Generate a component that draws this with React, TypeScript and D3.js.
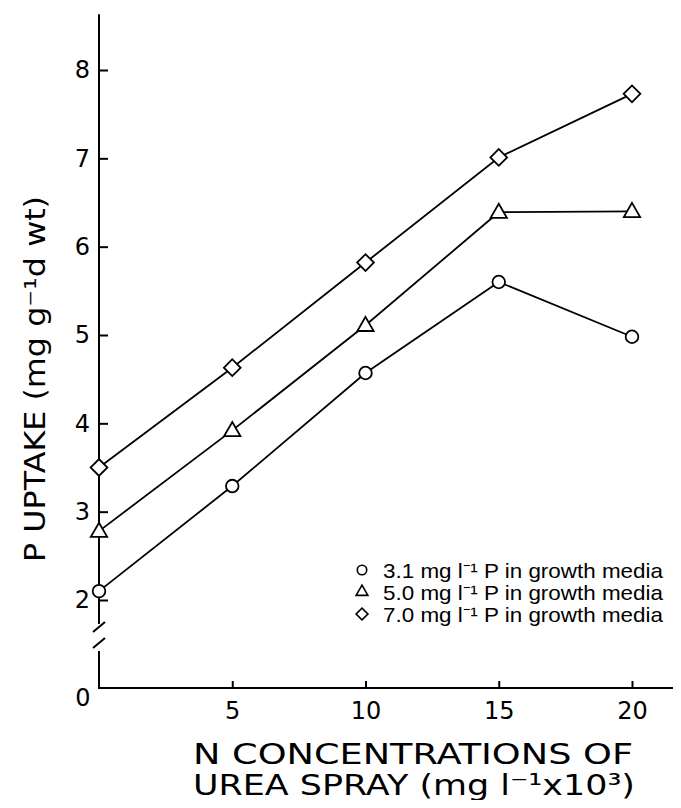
import { useEffect, useRef } from "react";
import * as d3 from "d3";

// urea spray N concentration (mg l-1 x 10^3)
const nConc = [0, 5, 10, 15, 20];
// P uptake (mg g-1 d wt) per P level in growth media
const p31 = [2.1, 3.29, 4.57, 5.6, 4.98];
const p50 = [2.78, 3.92, 5.11, 6.39, 6.4];
const p70 = [3.5, 4.63, 5.82, 7.01, 7.73];
const yTicks = [2, 3, 4, 5, 6, 7, 8];
const xTicks = [5, 10, 15, 20];
const legendLabels = ["3.1", "5.0", "7.0"];

const W = 681;
const H = 808;
const FONT = "'DejaVu Sans', 'Liberation Sans', sans-serif";
const LEGEND_FONT = "'Liberation Sans', Arial, sans-serif";

const App = () => {
  const svgRef = useRef<SVGSVGElement>(null);

  useEffect(() => {
    const svg = d3.select(svgRef.current);
    svg.selectAll("*").remove();

    const x = d3.scaleLinear().domain([0, 20]).range([99, 632]);
    const y = d3.scaleLinear().domain([2, 8]).range([600, 70]);
    const xAxisY = 688;
    const axisX = x(0);

    // y axis (upper part, with break)
    svg.append("line")
      .attr("x1", axisX).attr("x2", axisX)
      .attr("y1", y(8.63)).attr("y2", 624)
      .attr("stroke", "#000").attr("stroke-width", 2);
    svg.append("line")
      .attr("x1", axisX).attr("x2", axisX)
      .attr("y1", 651).attr("y2", xAxisY)
      .attr("stroke", "#000").attr("stroke-width", 2);
    // break marks
    [[632, 622], [648, 638]].forEach(([a, b]) => {
      svg.append("line")
        .attr("x1", axisX - 6).attr("y1", a)
        .attr("x2", axisX + 6).attr("y2", b)
        .attr("stroke", "#000").attr("stroke-width", 2);
    });
    // x axis line
    svg.append("line")
      .attr("x1", axisX - 1).attr("x2", 678)
      .attr("y1", xAxisY).attr("y2", xAxisY)
      .attr("stroke", "#000").attr("stroke-width", 2);

    const yAxis = d3.axisLeft(y)
      .tickValues(yTicks)
      .tickSize(-9)
      .tickPadding(9)
      .tickFormat(d3.format("d"));
    const gy = svg.append("g").attr("transform", `translate(${axisX},0)`).call(yAxis);
    gy.select(".domain").remove();
    gy.selectAll("line").attr("stroke-width", 2);
    gy.selectAll("text").attr("font-family", FONT).attr("font-size", 24).attr("fill", "#000");

    const xAxis = d3.axisBottom(x)
      .tickValues(xTicks)
      .tickSize(-7)
      .tickPadding(14)
      .tickFormat(d3.format("d"));
    const gx = svg.append("g").attr("transform", `translate(0,${xAxisY})`).call(xAxis);
    gx.select(".domain").remove();
    gx.selectAll("line").attr("stroke-width", 2);
    gx.selectAll("text").attr("font-family", FONT).attr("font-size", 24).attr("fill", "#000");

    // origin label
    svg.append("text")
      .attr("x", 83).attr("y", 706)
      .attr("text-anchor", "middle")
      .attr("font-family", FONT).attr("font-size", 24)
      .text("0");

    // axis titles
    svg.append("text")
      .attr("transform", "translate(45,379) rotate(-90)")
      .attr("text-anchor", "middle")
      .attr("font-family", FONT).attr("font-size", 28)
      .attr("textLength", 366)
      .attr("lengthAdjust", "spacingAndGlyphs")
      .text("P UPTAKE (mg g⁻¹d wt)");

    svg.append("text")
      .attr("x", 413).attr("y", 764)
      .attr("text-anchor", "middle")
      .attr("font-family", FONT).attr("font-size", 29)
      .attr("textLength", 440)
      .attr("lengthAdjust", "spacingAndGlyphs")
      .text("N CONCENTRATIONS OF");
    svg.append("text")
      .attr("x", 414).attr("y", 795)
      .attr("text-anchor", "middle")
      .attr("font-family", FONT).attr("font-size", 29)
      .attr("textLength", 442)
      .attr("lengthAdjust", "spacingAndGlyphs")
      .text("UREA SPRAY (mg l⁻¹x10³)");

    // series lines
    const line = d3.line<number>()
      .x((d, i) => x(nConc[i]))
      .y((d) => y(d));
    const series = [p31, p50, p70];
    series.forEach((s) => {
      svg.append("path")
        .attr("d", line(s))
        .attr("fill", "none")
        .attr("stroke", "#000")
        .attr("stroke-width", 1.8);
    });

    const symbols = [
      d3.symbol(d3.symbolCircle, 125),
      d3.symbol(d3.symbolTriangle, 115),
      d3.symbol(d3.symbolSquare, 140),
    ];
    const rot = ["", "", " rotate(45)"];
    const yOff = [0, 1, 0];

    series.forEach((s, k) => {
      svg.append("g")
        .selectAll("path")
        .data(s)
        .join("path")
        .attr("d", symbols[k]())
        .attr("transform", (d, i) => `translate(${x(nConc[i])},${y(d) + yOff[k]})${rot[k]}`)
        .attr("fill", "#fff")
        .attr("stroke", "#000")
        .attr("stroke-width", 1.8);
    });

    // legend
    const legendSymbols = [
      d3.symbol(d3.symbolCircle, 70),
      d3.symbol(d3.symbolTriangle, 60),
      d3.symbol(d3.symbolSquare, 70),
    ];
    legendLabels.forEach((lab, k) => {
      const ly = 570 + k * 22;
      svg.append("path")
        .attr("d", legendSymbols[k]())
        .attr("transform", `translate(362,${ly})${rot[k]}`)
        .attr("fill", "#fff")
        .attr("stroke", "#000")
        .attr("stroke-width", 1.6);
      svg.append("text")
        .attr("x", 383).attr("y", ly + 8)
        .attr("font-family", LEGEND_FONT).attr("font-size", 21)
        .attr("textLength", 280)
        .attr("lengthAdjust", "spacingAndGlyphs")
        .text(`${lab} mg l⁻¹ P in growth media`);
    });
  }, []);

  return <svg ref={svgRef} width={W} height={H} style={{ display: "block", margin: "-8px" }} />;
};

export default App;
